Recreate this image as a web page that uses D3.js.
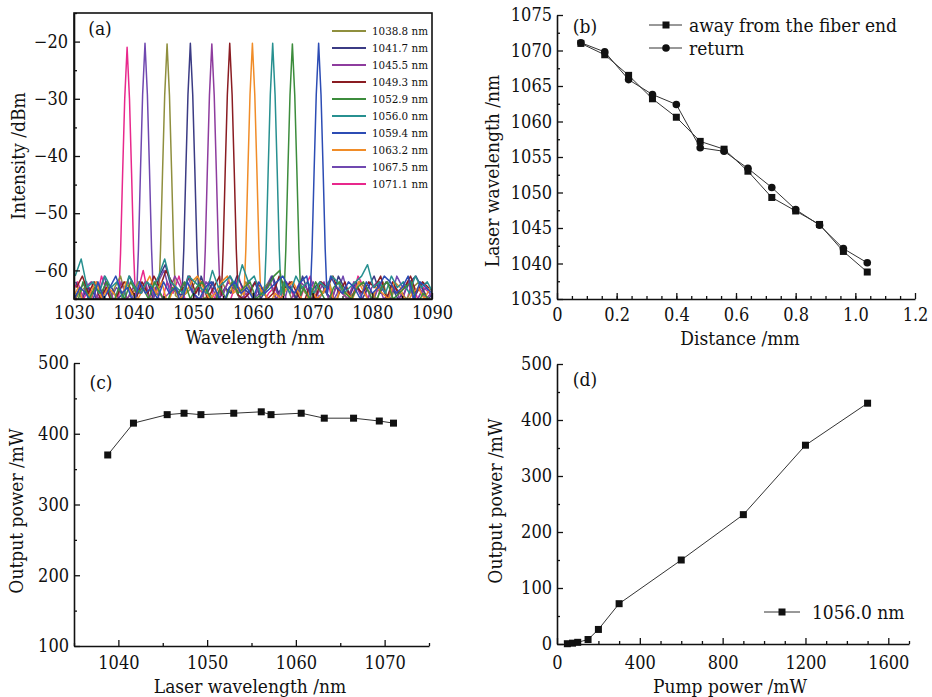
<!DOCTYPE html>
<html>
<head>
<meta charset="utf-8">
<script src="https://d3js.org/d3.v7.min.js"></script>
<style>
  body { margin: 0; background: #fff; }
  text { font-family: "DejaVu Serif Condensed", "DejaVu Serif", serif; fill: #111; }
</style>
</head>
<body>
<script>
// ---- data ----
// (a) spectra: legend as printed, and the peaks as drawn left to right
const legendLabels = ["1038.8 nm", "1041.7 nm", "1045.5 nm", "1049.3 nm", "1052.9 nm",
                      "1056.0 nm", "1059.4 nm", "1063.2 nm", "1067.5 nm", "1071.1 nm"];
const legendColors = ["#8f8f3e", "#3b3b84", "#8e3c9e", "#8a1c22", "#3c8c3c",
                      "#279090", "#2c4cb4", "#f08c28", "#7048b0", "#e8288c"];
const peakCenters = [1038.9, 1041.9, 1045.6, 1049.5, 1053.1, 1056.1, 1059.9, 1063.3, 1066.6, 1071.0];
const peakTops    = [-21.0, -20.3, -20.4, -20.3, -20.4, -20.3, -20.3, -20.3, -20.4, -20.3];
const peakColors  = ["#e8288c", "#7048b0", "#8f8f3e", "#3b3b84", "#8e3c9e",
                     "#8a1c22", "#f08c28", "#279090", "#3c8c3c", "#2c4cb4"];
// peak profile: offset from centre (nm) and drop below top (dB)
const peakOffsets = [-1.4, -1.1, -0.75, -0.4, 0, 0.4, 0.75, 1.1, 1.4];
const peakDrops   = [44, 36, 22, 9, 0, 9, 22, 36, 44];
// noise floor of each spectrum (-dBm), 1 nm apart from noiseStart
const noiseStart = [1029.6, 1030.1, 1029.8, 1030.3, 1029.9, 1030.4, 1029.7, 1030.2, 1029.5, 1030.0];
const noiseFloor = [
  "64 62 65 63 66 61 64 65 62 67 63 64 60 65 63 66 62 64 61 65 66 63 64 62 65 63 67 64 61 65 63 62 66 64 63 65 62 64 66 63 61 65 64 62 67 63 64 65 61 63 66 64 62 65 63 64 66 62 65 63 64",
  "65 63 62 66 64 61 65 63 64 62 66 63 65 64 62 60 64 63 65 61 64 66 62 63 65 64 61 63 66 62 65 64 63 61 64 66 62 65 63 64 62 65 63 66 64 61 65 62 64 63 66 62 64 65 61 63 62 66 64 63 65",
  "66 64 63 65 62 64 66 63 61 65 64 62 63 65 64 66 62 63 65 64 63 61 65 64 66 62 64 63 65 62 64 66 63 62 65 64 63 66 62 64 65 63 64 62 66 63 65 64 62 63 64 65 62 66 63 64 65 63 62 64 66",
  "62 65 63 64 66 62 63 65 64 61 63 64 62 65 61 59 63 64 62 65 63 61 64 62 65 63 64 61 63 64 62 65 63 61 64 62 63 65 61 64 63 62 64 65 61 63 64 62 65 63 61 64 62 63 65 64 62 61 63 65 64",
  "64 66 63 62 65 64 63 66 62 65 63 64 62 66 63 65 64 61 63 62 64 65 62 63 61 64 62 63 65 64 66 63 64 62 65 63 66 64 62 63 65 64 62 66 63 64 65 62 64 66 63 62 65 64 63 66 62 64 63 65 64",
  "63 61 64 62 65 63 66 64 62 63 65 62 64 61 63 60 62 64 63 61 64 62 65 63 61 64 62 63 65 64 62 63 65 64 61 63 62 64 66 63 65 62 63 61 64 62 65 63 64 62 63 61 65 62 64 63 61 64 62 63 64",
  "65 63 66 64 62 65 63 64 66 62 64 65 63 61 64 62 66 63 65 64 62 61 63 65 64 62 61 64 63 65 62 64 63 66 64 65 63 62 64 66 63 65 64 62 66 63 64 65 62 64 66 63 64 65 62 63 66 64 63 65 63",
  "61 58 63 62 64 61 63 62 65 61 63 64 62 63 61 58 62 63 64 61 62 63 64 60 63 62 61 63 59 62 61 64 62 63 60 62 64 61 63 62 64 62 63 61 62 64 63 62 61 59 63 62 64 61 63 62 64 61 63 62 64",
  "64 66 62 65 63 64 62 66 63 65 62 64 63 65 62 64 66 63 64 62 65 63 62 64 66 63 65 62 64 63 62 65 64 63 61 60 59 62 64 63 65 62 64 66 63 62 64 65 63 62 64 66 63 62 65 64 63 62 66 64 65",
  "65 63 64 66 62 65 63 61 64 63 66 62 64 63 65 62 64 63 66 62 64 65 63 62 64 66 63 62 64 63 65 62 64 63 62 61 63 64 62 61 63 62 64 61 63 64 62 63 65 62 64 63 61 62 64 63 61 65 62 63 64"
];

// (b) wavelength vs distance
const distance   = [0.08, 0.16, 0.24, 0.32, 0.40, 0.48, 0.56, 0.64, 0.72, 0.80, 0.88, 0.96, 1.04];
const awayWl     = [1071.0, 1069.4, 1066.5, 1063.2, 1060.6, 1057.2, 1056.1, 1053.0, 1049.3, 1047.4, 1045.5, 1041.7, 1038.8];
const returnWl   = [1071.1, 1069.8, 1065.9, 1063.8, 1062.4, 1056.3, 1055.8, 1053.4, 1050.7, 1047.6, 1045.4, 1042.1, 1040.1];

// (c) output power vs laser wavelength
const laserWl    = [1038.8, 1041.7, 1045.5, 1047.4, 1049.3, 1053.0, 1056.1, 1057.2, 1060.6, 1063.2, 1066.5, 1069.4, 1071.0];
const outPowerC  = [370, 415, 427, 429, 427, 429, 431, 427, 429, 422, 422, 418, 415];

// (d) output power vs pump power at 1056.0 nm
const pumpPower  = [50, 75, 100, 150, 200, 300, 600, 900, 1200, 1500];
const outPowerD  = [0.5, 1.5, 3, 8, 26, 72, 150, 231, 355, 430];

// ---- drawing ----
let width = 932, height = 697;
let tickFont = 18, titleFont = 19;

let svg = d3.select("body").append("svg")
    .attr("width", width)
    .attr("height", height);

svg.append("rect").attr("width", width).attr("height", height).attr("fill", "#fff");

function range(a, b, step) {
    return d3.range(a, b + step / 2, step);
}

// inward ticks, major + minor, on left and bottom
function drawAxes(x, y, o) {
    let g = svg.append("g");
    let y0 = y.range()[0], x0 = x.range()[0];

    let bx = g.append("g").attr("transform", `translate(0,${y0})`);
    bx.append("g").call(d3.axisBottom(x).tickValues(o.xMinor).tickSize(-3).tickFormat(""))
        .call(s => s.select(".domain").remove());
    bx.append("g").call(d3.axisBottom(x).tickValues(o.xMajor).tickSizeInner(-6).tickSizeOuter(0)
        .tickPadding(o.xPad).tickFormat(o.xFmt));

    let ly = g.append("g").attr("transform", `translate(${x0},0)`);
    ly.append("g").call(d3.axisLeft(y).tickValues(o.yMinor).tickSize(-3).tickFormat(""))
        .call(s => s.select(".domain").remove());
    ly.append("g").call(d3.axisLeft(y).tickValues(o.yMajor).tickSizeInner(-6).tickSizeOuter(0)
        .tickPadding(o.yPad).tickFormat(o.yFmt));

    g.selectAll(".domain").attr("stroke", "#111").attr("stroke-width", 1.6);
    g.selectAll(".tick line").attr("stroke", "#111").attr("stroke-width", 1.3);
    g.selectAll(".tick text")
        .attr("font-size", tickFont)
        .attr("fill", "#111");
    g.selectAll("g").attr("font-family", null).attr("font-size", null);
}

function axisTitles(xt, yt) {
    svg.append("text").attr("x", xt[1]).attr("y", xt[2])
        .attr("text-anchor", "middle").attr("dominant-baseline", "central")
        .attr("font-size", titleFont).text(xt[0]);
    svg.append("text")
        .attr("transform", `translate(${yt[1]},${yt[2]}) rotate(-90)`)
        .attr("text-anchor", "middle").attr("dominant-baseline", "central")
        .attr("font-size", titleFont).text(yt[0]);
}

function panelLabel(t, x, y) {
    svg.append("text").attr("x", x).attr("y", y)
        .attr("text-anchor", "middle").attr("dominant-baseline", "central")
        .attr("font-size", 19).text(t);
}

function square(sel, size) {
    sel.attr("x", -size / 2).attr("y", -size / 2).attr("width", size).attr("height", size);
}

// ---------- (a) ----------
{
    let x = d3.scaleLinear().domain([1030, 1090]).range([74, 432]);
    let y = d3.scaleLinear().domain([-65, -15]).range([299, 13]);

    svg.append("clipPath").attr("id", "clipA")
        .append("rect").attr("x", 74).attr("y", 13).attr("width", 358).attr("height", 286);

    let spectra = peakCenters.map((c, i) => {
        let pts = noiseFloor[i].trim().split(/\s+/).map((v, k) => [noiseStart[i] + k, -(+v)])
            .filter(p => Math.abs(p[0] - c) > 1.6);
        peakOffsets.forEach((o, k) => pts.push([c + o, peakTops[i] - peakDrops[k]]));
        pts.sort((a, b) => a[0] - b[0]);
        return pts;
    });

    let line = d3.line().x(d => x(d[0])).y(d => y(d[1]));

    svg.append("g").attr("clip-path", "url(#clipA)")
        .selectAll("path")
        .data(spectra)
        .join("path")
            .attr("d", line)
            .attr("fill", "none")
            .attr("stroke", (d, i) => peakColors[i])
            .attr("stroke-width", 1.5)
            .attr("stroke-linejoin", "round");

    drawAxes(x, y, {
        xMajor: range(1030, 1090, 10), xMinor: range(1035, 1085, 10), xPad: 7, xFmt: d3.format("d"),
        yMajor: range(-60, -20, 10), yMinor: range(-65, -15, 10), yPad: 6, yFmt: d3.format("d")
    });

    // box
    svg.append("rect").attr("x", 74).attr("y", 13).attr("width", 358).attr("height", 286)
        .attr("fill", "none").attr("stroke", "#111").attr("stroke-width", 1.6);

    // legend
    let lg = svg.append("g").selectAll("g")
        .data(legendLabels)
        .join("g")
            .attr("transform", (d, i) => `translate(332,${31 + i * 17})`);
    lg.append("line").attr("x1", 0).attr("x2", 34)
        .attr("stroke", (d, i) => legendColors[i]).attr("stroke-width", 2);
    lg.append("text").attr("x", 40).attr("dominant-baseline", "central")
        .attr("font-size", 11.5).text(d => d);

    panelLabel("(a)", 100, 28);
    axisTitles(["Wavelength /nm", 255, 337], ["Intensity /dBm", 18, 156]);
}

// ---------- (b) ----------
{
    let x = d3.scaleLinear().domain([0, 1.2]).range([557, 915]);
    let y = d3.scaleLinear().domain([1035, 1075]).range([299, 15]);

    drawAxes(x, y, {
        xMajor: range(0, 1.2, 0.2), xMinor: range(0.05, 1.15, 0.05), xPad: 9,
        xFmt: d => d === 0 ? "0" : d3.format(".1f")(d),
        yMajor: range(1035, 1075, 5), yMinor: range(1037.5, 1072.5, 5), yPad: 5, yFmt: d3.format("d")
    });

    let line = d3.line().x(d => x(d[0])).y(d => y(d[1]));
    let away = distance.map((d, i) => [d, awayWl[i]]);
    let ret = distance.map((d, i) => [d, returnWl[i]]);

    svg.append("path").datum(away).attr("d", line)
        .attr("fill", "none").attr("stroke", "#333").attr("stroke-width", 1);
    svg.append("path").datum(ret).attr("d", line)
        .attr("fill", "none").attr("stroke", "#333").attr("stroke-width", 1);

    svg.append("g").selectAll("rect").data(away).join("rect")
        .call(square, 7)
        .attr("transform", d => `translate(${x(d[0])},${y(d[1])})`)
        .attr("fill", "#111");
    svg.append("g").selectAll("circle").data(ret).join("circle")
        .attr("cx", d => x(d[0])).attr("cy", d => y(d[1])).attr("r", 3.8)
        .attr("fill", "#111");

    // legend
    let lg = svg.append("g");
    lg.append("line").attr("x1", 649).attr("x2", 682).attr("y1", 25).attr("y2", 25).attr("stroke", "#333");
    lg.append("rect").call(square, 7).attr("transform", "translate(666,25)").attr("fill", "#111");
    lg.append("text").attr("x", 689).attr("y", 25).attr("dominant-baseline", "central")
        .attr("font-size", titleFont).text("away from the fiber end");
    lg.append("line").attr("x1", 649).attr("x2", 682).attr("y1", 48).attr("y2", 48).attr("stroke", "#333");
    lg.append("circle").attr("cx", 666).attr("cy", 48).attr("r", 3.8).attr("fill", "#111");
    lg.append("text").attr("x", 689).attr("y", 48).attr("dominant-baseline", "central")
        .attr("font-size", titleFont).text("return");

    panelLabel("(b)", 585, 26);
    axisTitles(["Distance /mm", 740, 338], ["Laser wavelength /nm", 492, 171]);
}

// ---------- (c) ----------
{
    let x = d3.scaleLinear().domain([1035, 1075]).range([74, 429]);
    let y = d3.scaleLinear().domain([100, 500]).range([646, 363]);

    drawAxes(x, y, {
        xMajor: range(1040, 1070, 10), xMinor: range(1035, 1075, 5).filter(v => v % 10 !== 0),
        xPad: 10, xFmt: d3.format("d"),
        yMajor: range(100, 500, 100), yMinor: range(150, 450, 100), yPad: 5, yFmt: d3.format("d")
    });

    let pts = laserWl.map((d, i) => [d, outPowerC[i]]);
    svg.append("path").datum(pts)
        .attr("d", d3.line().x(d => x(d[0])).y(d => y(d[1])))
        .attr("fill", "none").attr("stroke", "#333").attr("stroke-width", 1);
    svg.append("g").selectAll("rect").data(pts).join("rect")
        .call(square, 7)
        .attr("transform", d => `translate(${x(d[0])},${y(d[1])})`)
        .attr("fill", "#111");

    panelLabel("(c)", 101, 382);
    axisTitles(["Laser wavelength /nm", 250, 686], ["Output power /mW", 16, 511]);
}

// ---------- (d) ----------
{
    let x = d3.scaleLinear().domain([0, 1700]).range([557, 909]);
    let y = d3.scaleLinear().domain([0, 500]).range([644, 364]);

    drawAxes(x, y, {
        xMajor: range(0, 1600, 400), xMinor: range(100, 1700, 100).filter(v => v % 400 !== 0),
        xPad: 12, xFmt: d3.format("d"),
        yMajor: range(0, 500, 100), yMinor: range(50, 450, 100), yPad: 5, yFmt: d3.format("d")
    });

    let pts = pumpPower.map((d, i) => [d, outPowerD[i]]);
    svg.append("path").datum(pts)
        .attr("d", d3.line().x(d => x(d[0])).y(d => y(d[1])))
        .attr("fill", "none").attr("stroke", "#333").attr("stroke-width", 1);
    svg.append("g").selectAll("rect").data(pts).join("rect")
        .call(square, 7)
        .attr("transform", d => `translate(${x(d[0])},${y(d[1])})`)
        .attr("fill", "#111");

    // legend
    svg.append("line").attr("x1", 764).attr("x2", 800).attr("y1", 612).attr("y2", 612).attr("stroke", "#333");
    svg.append("rect").call(square, 7).attr("transform", "translate(782,612)").attr("fill", "#111");
    svg.append("text").attr("x", 812).attr("y", 612).attr("dominant-baseline", "central")
        .attr("font-size", titleFont).text("1056.0 nm");

    panelLabel("(d)", 585, 379);
    axisTitles(["Pump power /mW", 730, 686], ["Output power /mW", 495, 501]);
}
</script>
</body>
</html>
